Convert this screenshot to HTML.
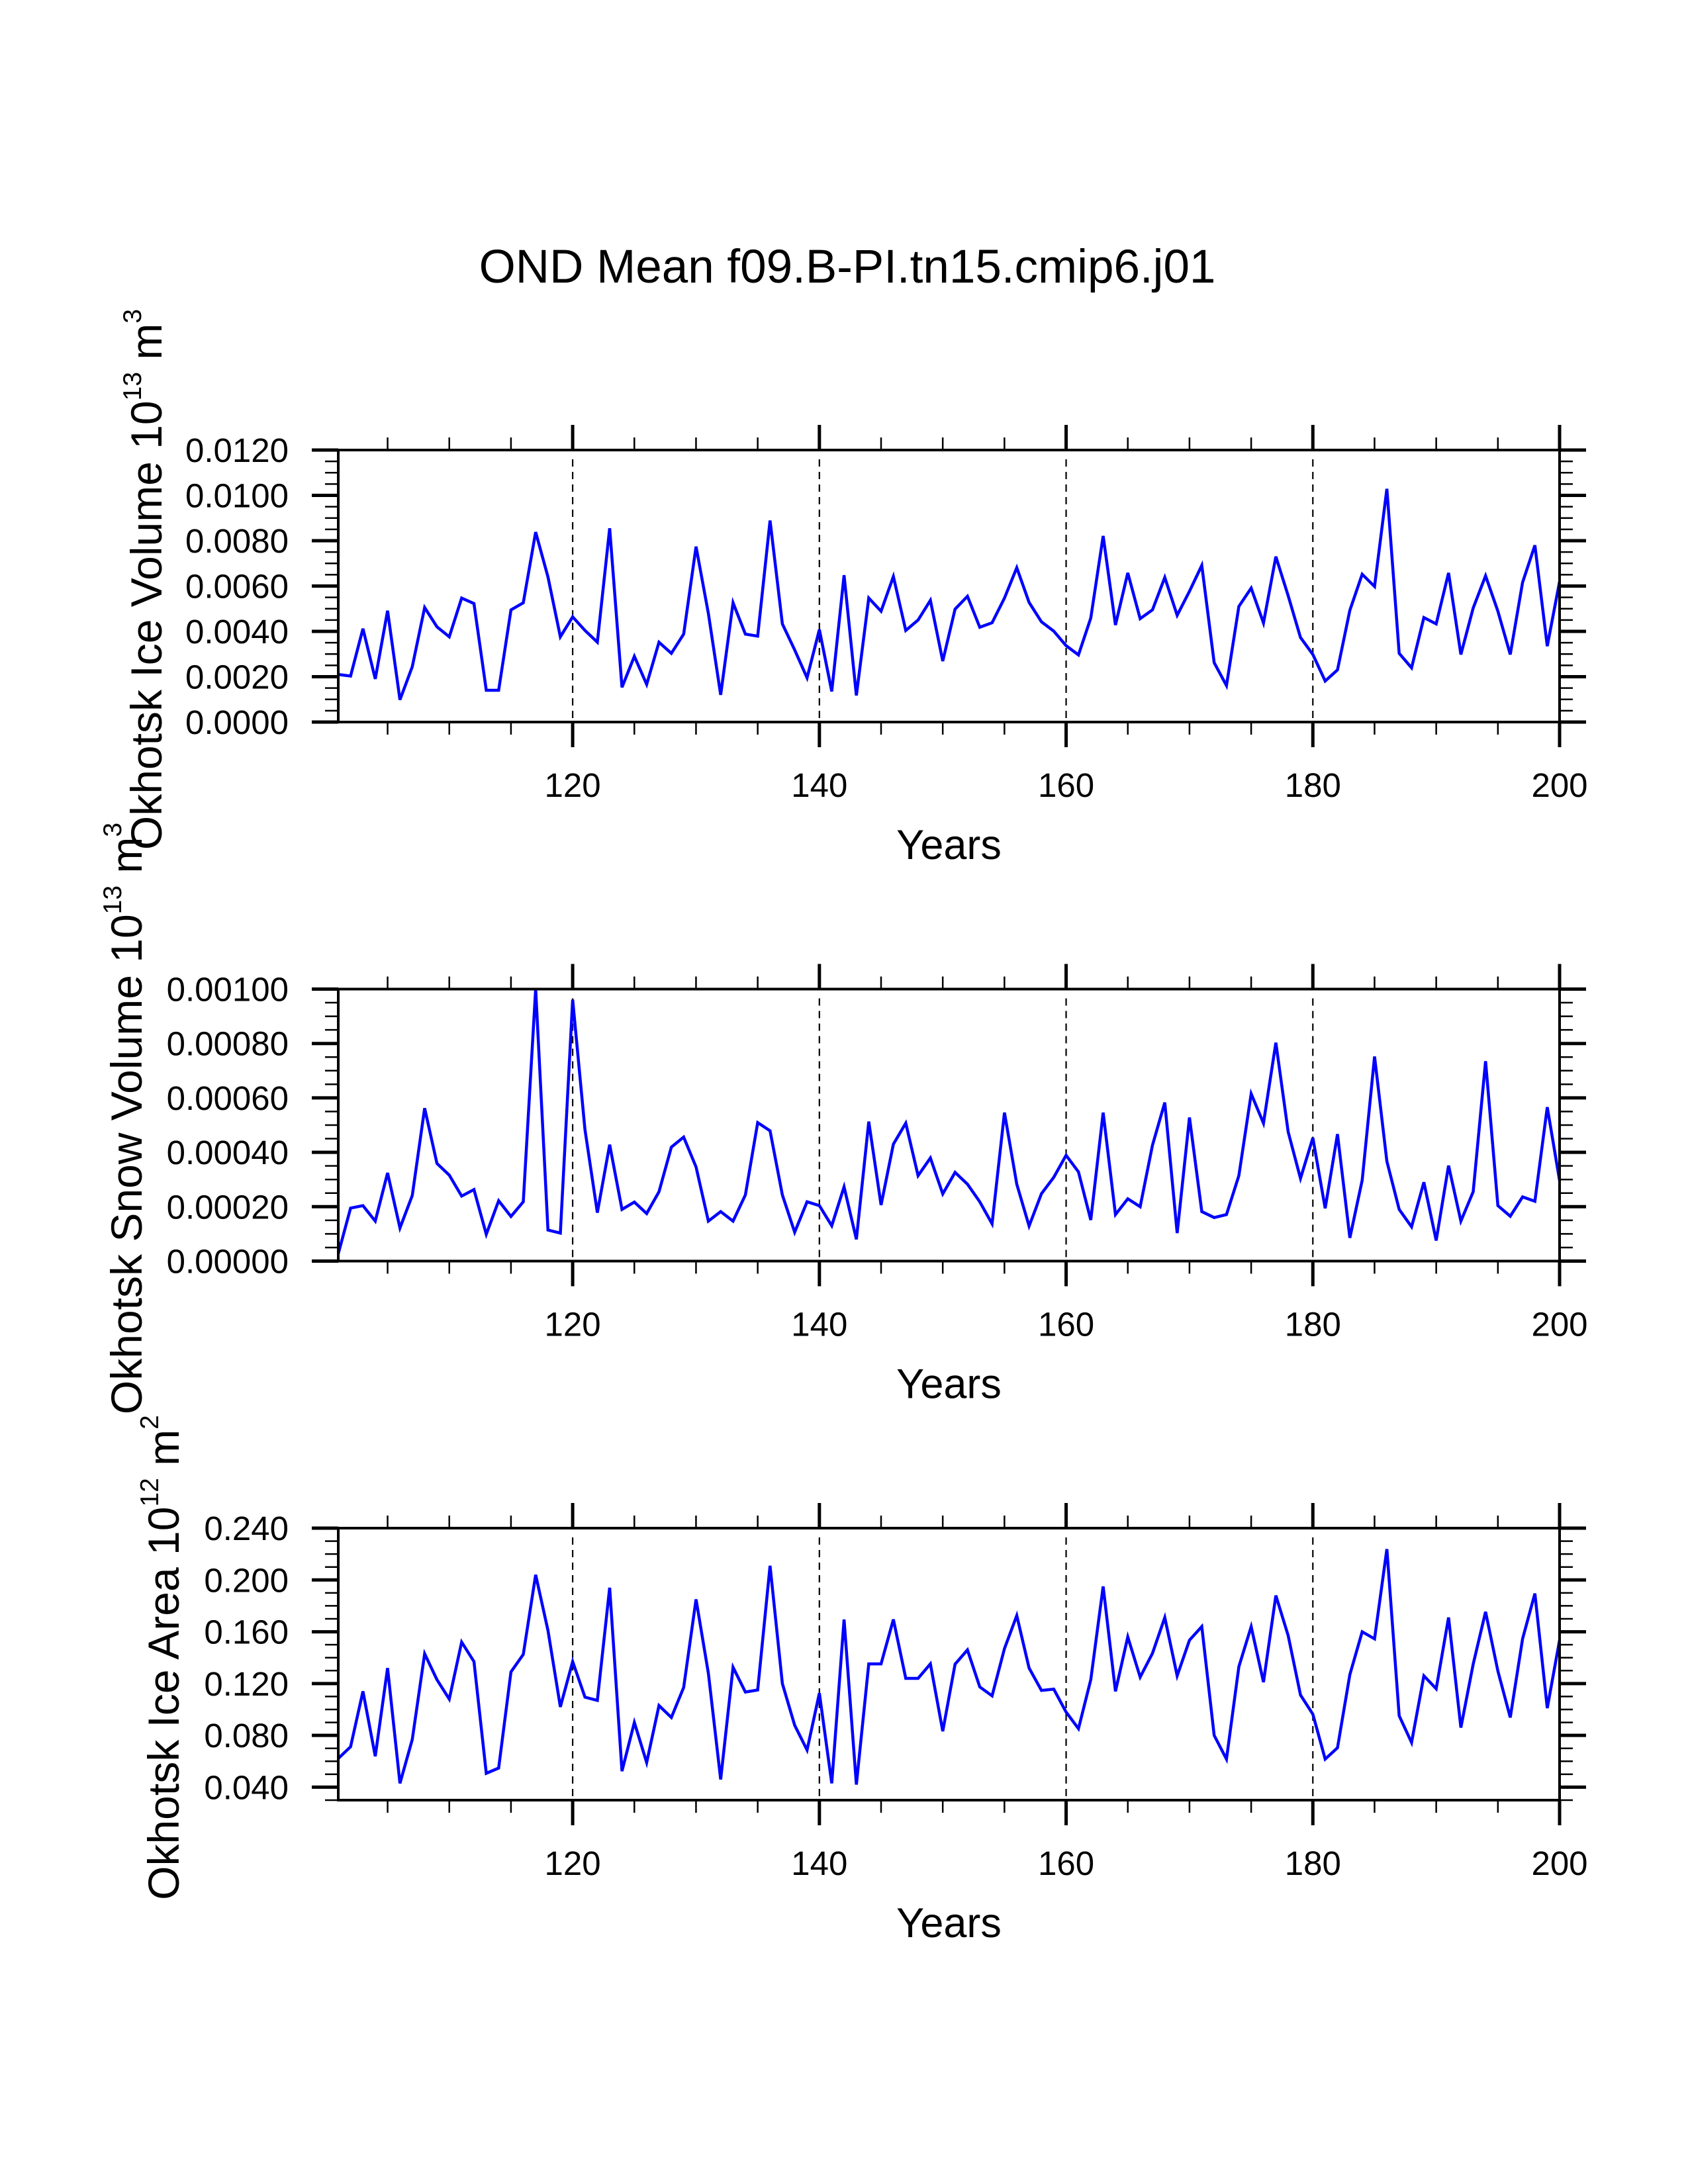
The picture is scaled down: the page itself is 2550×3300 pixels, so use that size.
<!DOCTYPE html>
<html><head><meta charset="utf-8"><style>
html,body{margin:0;padding:0;background:#fff;}
svg{display:block;font-family:"Liberation Sans",Arial,sans-serif;}
</style></head><body>
<svg id="chart" xmlns="http://www.w3.org/2000/svg" width="2550" height="3300" viewBox="0 0 2550 3300">
<rect width="2550" height="3300" fill="#fff"/>
<text x="1280" y="427" font-size="71" text-anchor="middle">OND Mean f09.B-PI.tn15.cmip6.j01</text>
</svg>
<script>
const years = [];
for (let y = 101; y <= 200; y++) years.push(y);
const xTickValues = [120, 140, 160, 180, 200];
const gridYears = [120, 140, 160, 180];

const iceVolume = [0.0021,0.00203,0.00412,0.0019,0.00491,0.00098,0.00244,0.00505,0.0042,0.00376,
0.00547,0.00523,0.0014,0.0014,0.00495,0.00526,0.00838,0.0064,0.00376,0.00464,
0.00404,0.00352,0.00855,0.00153,0.0029,0.00166,0.00352,0.00303,0.00388,0.00774,
0.00479,0.0012,0.00526,0.00388,0.00379,0.00889,0.00433,0.00318,0.00195,0.00408,
0.00135,0.00648,0.00117,0.00547,0.00489,0.00642,0.00404,0.0045,0.00537,0.00269,
0.00498,0.00555,0.00418,0.00438,0.00547,0.00681,0.00528,0.00442,0.00401,0.00337,
0.00296,0.00459,0.00821,0.00428,0.00658,0.00456,0.00495,0.00638,0.00471,0.00577,
0.00691,0.00262,0.00161,0.0051,0.00591,0.00437,0.0073,0.00557,0.00373,0.00298,
0.00181,0.0023,0.00493,0.00652,0.00598,0.01029,0.00303,0.00239,0.00461,0.00433,
0.00658,0.00298,0.00503,0.00645,0.00489,0.00298,0.00616,0.0078,0.00335,0.0062];

const snowVolume = [0.000027,0.000195,0.000204,0.000147,0.000324,0.000122,0.000241,0.000562,0.000359,0.000316,
0.000239,0.000263,0.0000985,0.000222,0.000164,0.000218,0.001,0.000114,0.000103,0.000961,
0.000483,0.000178,0.000428,0.00019,0.000217,0.000175,0.000255,0.000419,0.000456,0.000346,
0.000147,0.000182,0.000147,0.000243,0.000509,0.000479,0.000243,0.000106,0.000218,0.000204,
0.00013,0.000273,0.00008,0.000513,0.000206,0.00043,0.000507,0.000314,0.000379,0.000247,
0.000326,0.000283,0.000218,0.000137,0.000546,0.000283,0.000129,0.000248,0.000308,0.000389,
0.000328,0.000151,0.000546,0.000171,0.000229,0.0002,0.000426,0.000583,0.000103,0.000528,
0.000182,0.00016,0.000171,0.000314,0.000615,0.000507,0.000803,0.000475,0.000304,0.000453,
0.000194,0.000467,0.0000855,0.000297,0.000752,0.000367,0.00019,0.000126,0.00029,0.0000757,
0.000351,0.000147,0.000255,0.000735,0.000204,0.000165,0.000236,0.00022,0.000566,0.000296];

const iceArea = [0.0622,0.0712,0.114,0.0639,0.132,0.043,0.0768,0.143,0.123,0.108,
0.152,0.137,0.0507,0.0548,0.129,0.1425,0.204,0.161,0.102,0.137,
0.1095,0.107,0.194,0.0524,0.09,0.059,0.103,0.0938,0.117,0.185,
0.128,0.046,0.1326,0.1135,0.115,0.211,0.12,0.0878,0.0687,0.1126,
0.043,0.1695,0.042,0.1352,0.1352,0.1695,0.124,0.124,0.1352,0.0832,
0.135,0.146,0.1174,0.1105,0.147,0.1725,0.132,0.1147,0.1157,0.098,
0.0852,0.123,0.195,0.114,0.156,0.125,0.1434,0.171,0.126,0.1535,
0.164,0.08,0.0617,0.133,0.1639,0.1211,0.188,0.157,0.1112,0.0963,
0.0617,0.0704,0.127,0.16,0.1545,0.2238,0.0951,0.0745,0.126,0.116,
0.171,0.086,0.135,0.1754,0.1297,0.0938,0.1545,0.1895,0.101,0.1536];

const iceVolTicks = [0, 0.002, 0.004, 0.006, 0.008, 0.010, 0.012];
const iceVolTickLabels = ["0.0000","0.0020","0.0040","0.0060","0.0080","0.0100","0.0120"];
const snowTicks = [0, 0.0002, 0.0004, 0.0006, 0.0008, 0.001];
const snowTickLabels = ["0.00000","0.00020","0.00040","0.00060","0.00080","0.00100"];
const areaTicks = [0.04, 0.08, 0.12, 0.16, 0.20, 0.24];
const areaTickLabels = ["0.040","0.080","0.120","0.160","0.200","0.240"];

const NS = "http://www.w3.org/2000/svg";
const svg = document.getElementById("chart");
const X0 = 511, X1 = 2356, H = 411;
const xMin = 101, xMax = 200;
function xScale(v){ return X0 + (v - xMin) / (xMax - xMin) * (X1 - X0); }

function mk(tag, attrs, parent){
  const e = document.createElementNS(NS, tag);
  for (const k in attrs) e.setAttribute(k, attrs[k]);
  (parent || svg).appendChild(e);
  return e;
}

const panels = [
  {key:"ice-volume", top:680, ymin:0, ymax:0.012, data:iceVolume, ticks:iceVolTicks, labels:iceVolTickLabels, minorStep:0.0005,
   title:["Okhotsk Ice Volume 10","13"," m","3"], titleX:244},
  {key:"snow-volume", top:1494.5, ymin:0, ymax:0.001, data:snowVolume, ticks:snowTicks, labels:snowTickLabels, minorStep:0.00005,
   title:["Okhotsk Snow Volume 10","13"," m","3"], titleX:214},
  {key:"ice-area", top:2309, ymin:0.03, ymax:0.24, data:iceArea, ticks:areaTicks, labels:areaTickLabels, minorStep:0.01,
   title:["Okhotsk Ice Area 10","12"," m","2"], titleX:270}
];

panels.forEach(p => {
  const top = p.top, bot = top + H;
  const yScale = v => bot - (v - p.ymin) / (p.ymax - p.ymin) * H;
  const g = mk("g", {});
  
  

  gridYears.forEach(yr => {
    const l = mk("line", {x1:xScale(yr), x2:xScale(yr), y1:top+14, y2:bot, stroke:"#000", "stroke-width":2.2, "stroke-dasharray":"11 8"}, g);
    
    
  });

  const pts = p.data.map((v,i) => xScale(years[i]).toFixed(1) + "," + yScale(v).toFixed(1)).join(" ");
  const line = mk("polyline", {points:pts, fill:"none", stroke:"#0000ff", "stroke-width":4.5, "stroke-linejoin":"miter"}, g);
  
  

  const fr = mk("rect", {x:X0, y:top, width:X1-X0, height:H, fill:"none", stroke:"#000", "stroke-width":4}, g);
  
  

  for (let yr = 105; yr <= 200; yr += 5) {
    const major = xTickValues.indexOf(yr) >= 0;
    const len = major ? 38 : 19, w = major ? 5 : 2.5, x = xScale(yr);
    mk("line", {x1:x, x2:x, y1:top, y2:top-len, stroke:"#000", "stroke-width":w}, g);
    mk("line", {x1:x, x2:x, y1:bot, y2:bot+len, stroke:"#000", "stroke-width":w}, g);
  }
  xTickValues.forEach(yr => {
    const t = mk("text", {x:xScale(yr), y:bot+113, "font-size":51, "text-anchor":"middle"}, g);
    t.textContent = String(yr);
    
    
  });

  const nMinor = Math.round((p.ymax - p.ymin) / p.minorStep);
  for (let i = 0; i <= nMinor; i++) {
    const v = p.ymin + i * p.minorStep, y = yScale(v);
    mk("line", {x1:X0, x2:X0-20, y1:y, y2:y, stroke:"#000", "stroke-width":2.5}, g);
    mk("line", {x1:X1, x2:X1+20, y1:y, y2:y, stroke:"#000", "stroke-width":2.5}, g);
  }
  p.ticks.forEach((v, i) => {
    const y = yScale(v);
    mk("line", {x1:X0, x2:X0-40, y1:y, y2:y, stroke:"#000", "stroke-width":5}, g);
    mk("line", {x1:X1, x2:X1+40, y1:y, y2:y, stroke:"#000", "stroke-width":5}, g);
    const t = mk("text", {x:436, y:y+18, "font-size":51, "text-anchor":"end"}, g);
    t.textContent = p.labels[i];
    
    
  });

  const xt = mk("text", {x:(X0+X1)/2, y:bot+207, "font-size":63, "text-anchor":"middle"}, g);
  xt.textContent = "Years";
  
  

  const yt = mk("text", {transform:"translate(" + p.titleX + "," + (top + H/2 - 10) + ") rotate(-90)", "font-size":66, "text-anchor":"middle"}, g);
  
  
  const s1 = mk("tspan", {}, yt); s1.textContent = p.title[0];
  const s2 = mk("tspan", {"font-size":39, dy:-31}, yt); s2.textContent = p.title[1];
  const s3 = mk("tspan", {dy:31}, yt); s3.textContent = p.title[2];
  const s4 = mk("tspan", {"font-size":39, dy:-31}, yt); s4.textContent = p.title[3];
});
</script>
</body></html>
